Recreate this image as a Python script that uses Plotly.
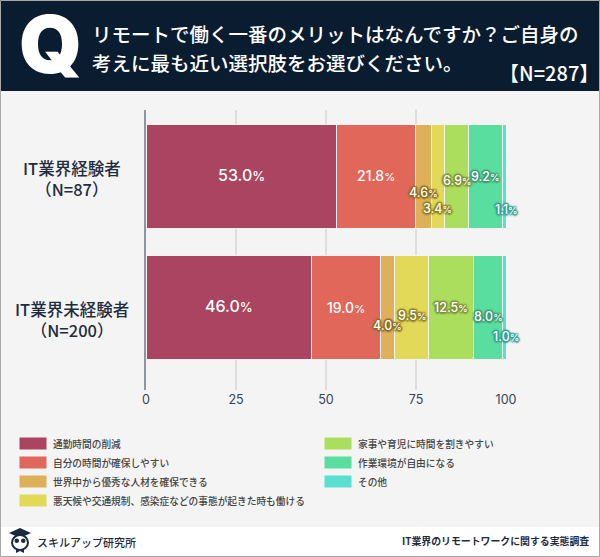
import plotly.graph_objects as go

categories = ["IT業界経験者", "IT業界未経験者"]
group_sizes = ["（N=87）", "（N=200）"]
options = ["通勤時間の削減", "自分の時間が確保しやすい", "世界中から優秀な人材を確保できる",
           "悪天候や交通規制、感染症などの事態が起きた時も働ける", "家事や育児に時間を割きやすい",
           "作業環境が自由になる", "その他"]
experienced = [53.0, 21.8, 4.6, 3.4, 6.9, 9.2, 1.1]
inexperienced = [46.0, 19.0, 4.0, 9.5, 12.5, 8.0, 1.0]
colors = ["#ab4460", "#e2675b", "#dfb05a", "#e1d957", "#aade5c", "#5ade9f", "#5ae0d0"]
x_ticks = [0, 25, 50, 75, 100]
label_shift_experienced = [2, 1, -16, -32, -4, 0, -33]
label_shift_inexperienced = [1, 0, -18, -8, 0, -9, -29]
category_label_shift = [-2, -12]
halo_colors = ["none", "none", "#8a6d20", "#8a7f20", "#7f8f3a", "#3f9a75", "#2f9f95"]

W, H = 600, 557
JP = "Noto Sans CJK JP"
def px(x): return x / W
def py(y): return 1 - y / H

fig = go.Figure()
for i, opt in enumerate(options):
    fig.add_trace(go.Bar(
        y=categories, x=[experienced[i], inexperienced[i]], name=opt, orientation="h",
        marker=dict(color=colors[i], line=dict(color="#f4f4f4", width=1)),
        width=0.8, showlegend=False,
    ))

shapes = [
    dict(type="rect", xref="paper", yref="paper", x0=0, x1=1, y0=py(91), y1=py(527),
         fillcolor="#f4f4f4", line_width=0, layer="below"),
    dict(type="rect", xref="paper", yref="paper", x0=0, x1=1, y0=py(0), y1=py(91),
         fillcolor="#0a1c30", line_width=0, layer="below"),
    dict(type="rect", xref="paper", yref="paper", x0=px(0.5), x1=px(599.5), y0=py(0.5), y1=py(556.5),
         fillcolor="rgba(0,0,0,0)", line=dict(color="#a8a8a8", width=1), layer="above"),
    dict(type="line", xref="paper", yref="paper", x0=px(145), x1=px(145), y0=py(110), y1=py(390),
         line=dict(color="#6a7788", width=1.5), layer="above"),
]
ann = []
def text(x, y, s, size, color="#ffffff", anchor="left", weight=None, family=JP, **kw):
    ann.append(dict(xref="paper", yref="paper", x=px(x), y=py(y), text=s, showarrow=False,
                    xanchor=anchor, yanchor="middle", align=anchor,
                    font=dict(size=size, color=color, family=family, weight=weight), **kw))

text(50, 43, "Q", 80, weight=900, anchor="center", family="Inter")
text(90, 33, "リモートで働く一番のメリットはなんですか？ご自身の", 19.5, weight=500)
text(90, 62, "考えに最も近い選択肢をお選びください。", 19.5, weight=500)
text(601, 73, "【N=287】", 20, weight=500, anchor="right")

for cat, n, shift in zip(categories, group_sizes, category_label_shift):
    ann.append(dict(xref="paper", yref="y", x=px(71.5), y=cat, yshift=shift, text=f"{cat}<br>{n}", showarrow=False,
                    xanchor="center", yanchor="middle", align="center",
                    font=dict(size=16.5, color="#1e2c40", family=JP, weight=500)))

def pct(v, small):
    return f'{v:.1f}<span style="font-size:{small}px">%</span>'

for cat, vals, shifts in ((categories[0], experienced, label_shift_experienced),
                          (categories[1], inexperienced, label_shift_inexperienced)):
    left = 0
    for i, v in enumerate(vals):
        large = v > 15
        size = (16 if v > 30 else 14) if large else 12.5
        shadow = "none" if halo_colors[i] == "none" else "".join(
            f"{dx}px {dy}px 1.5px {halo_colors[i]}," for dx, dy in
            ((1,1),(-1,-1),(1,-1),(-1,1),(1.5,0),(-1.5,0),(0,1.5),(0,-1.5)))[:-1]
        ann.append(dict(xref="x", yref="y", x=left + v / 2, y=cat, yshift=shifts[i],
                        xshift=2 if i == 6 else 0,
                        text=pct(v, size - 3), showarrow=False,
                        font=dict(size=size, color="#ffffff", family="Inter", weight=500, shadow=shadow)))
        left += v

ys = [443.5, 462.5, 481.5, 500.5]
slots = [(19, y) for y in ys] + [(324, y) for y in ys[:3]]
for i, (x, y) in enumerate(slots):
    shapes.append(dict(type="rect", xref="paper", yref="paper", x0=px(x), x1=px(x + 28),
                       y0=py(y - 6.5), y1=py(y + 6.5), fillcolor=colors[i],
                       line=dict(color="#f4f4f4", width=1)))
    text(x + 32, y, options[i], 9.7, color="#444444", weight=500)

# logo
navy = "#1a2a40"
shapes += [
    dict(type="path", xref="paper", yref="paper", fillcolor=navy, line_width=0,
         path=f"M {px(9)} {py(533)} L {px(20)} {py(528)} L {px(31)} {py(533)} L {px(20)} {py(538)} Z"),
    dict(type="circle", xref="paper", yref="paper", x0=px(12), x1=px(28), y0=py(535), y1=py(550),
         fillcolor="#ffffff", line=dict(color=navy, width=2)),
    dict(type="circle", xref="paper", yref="paper", x0=px(14.5), x1=px(19), y0=py(538.5), y1=py(543),
         fillcolor=navy, line_width=0),
    dict(type="circle", xref="paper", yref="paper", x0=px(21), x1=px(25.5), y0=py(538.5), y1=py(543),
         fillcolor=navy, line_width=0),
    dict(type="path", xref="paper", yref="paper", fillcolor=navy, line_width=0,
         path=f"M {px(16)} {py(549)} L {px(20)} {py(551)} L {px(24)} {py(549)} L {px(24)} {py(553)} L {px(20)} {py(551)} L {px(16)} {py(553)} Z"),
]
text(35, 542, "スキルアップ研究所", 11, color="#1e2c40", weight=500)
text(591, 541, "IT業界のリモートワークに関する実態調査", 9.9, color="#1e2c40", weight=700, anchor="right")

fig.update_layout(
    width=W, height=H, margin=dict(l=0, r=0, t=0, b=0, pad=0, autoexpand=False), autosize=False,
    paper_bgcolor="#ffffff", plot_bgcolor="rgba(0,0,0,0)", barmode="stack",
    xaxis=dict(domain=[px(146), px(506)], range=[0, 100], tickvals=x_ticks, showgrid=True,
               gridcolor="#dedede", gridwidth=1.5, zeroline=False, showline=False, ticks="",
               tickfont=dict(size=12.5, color="#33435a", family="Inter"), ticklabeloverflow="allow"),
    yaxis=dict(domain=[py(390), py(110)], range=[1.63, -0.508], type="category",
               categoryorder="array", categoryarray=categories, showticklabels=False,
               showgrid=False, zeroline=False, ticks=""),
    shapes=shapes, annotations=ann,
)
fig.write_html("out.html", config={"displayModeBar": False},
               post_script="document.body.style.margin='0';document.documentElement.style.overflow='hidden';")
